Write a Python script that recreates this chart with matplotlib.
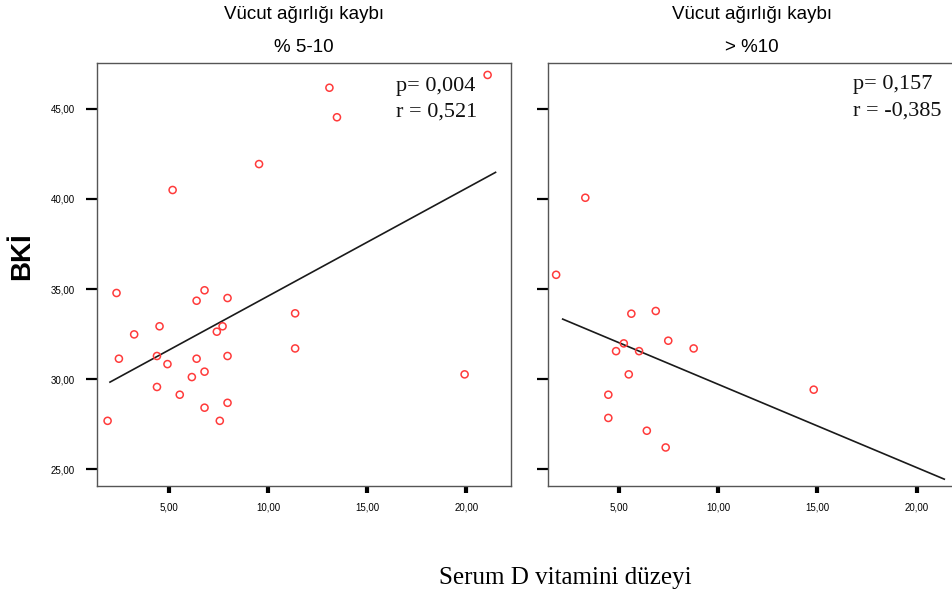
import matplotlib
matplotlib.use("Agg")
import matplotlib.pyplot as plt
import matplotlib as mpl

# Vücut ağırlığı kaybı % 5-10
vit_d_5_10 = [21.08, 13.10, 13.48, 9.55, 5.19, 2.36, 6.80, 6.40, 7.96, 11.37,
              4.53, 3.25, 7.71, 7.42, 11.37, 2.48, 4.40, 6.40, 7.96, 4.93,
              6.80, 6.16, 19.92, 4.40, 5.55, 7.96, 6.80, 1.91, 7.57]
bki_5_10 = [46.89, 46.18, 44.54, 41.94, 40.50, 34.78, 34.93, 34.35, 34.50, 33.65,
            32.93, 32.48, 32.93, 32.63, 31.70, 31.13, 31.28, 31.13, 31.28, 30.83,
            30.41, 30.11, 30.26, 29.56, 29.13, 28.68, 28.41, 27.68, 27.68]
fit_x_5_10 = [2.03, 21.48]
fit_y_5_10 = [29.83, 41.48]

# Vücut ağırlığı kaybı > %10
vit_d_10 = [3.30, 1.83, 5.62, 6.85, 7.48, 8.76, 5.24, 4.85, 6.01, 5.49,
            14.81, 4.46, 4.46, 6.40, 7.35]
bki_10 = [40.07, 35.79, 33.63, 33.78, 32.13, 31.70, 31.98, 31.55, 31.55, 30.26,
          29.41, 29.13, 27.84, 27.13, 26.20]
fit_x_10 = [2.16, 21.39]
fit_y_10 = [33.33, 24.44]

X_TICKS = [5, 10, 15, 20]
Y_TICKS = [25, 30, 35, 40, 45]

mpl.rcParams.update({
    'font.family': ['Liberation Sans', 'DejaVu Sans'],
    'axes.edgecolor': '#555555', 'axes.linewidth': 1.0,
    'xtick.direction': 'out', 'ytick.direction': 'out',
})

W, H = 953, 599
fig = plt.figure(figsize=(W / 100, H / 100), dpi=100)

ax1 = fig.add_axes([96.7 / W, 1 - 486 / H, (511 - 96.7) / W, (486 - 62.7) / H])
ax2 = fig.add_axes([548 / W, 1 - 486 / H, (955 - 548) / W, (486 - 62.7) / H])

panels = [
    (ax1, vit_d_5_10, bki_5_10, fit_x_5_10, fit_y_5_10, (1.36, 22.26), "% 5-10",
     ["p= 0,004", "r = 0,521"], 0.722, (0.933, 0.872)),
    (ax2, vit_d_10, bki_10, fit_x_10, fit_y_10, (1.42, 21.93), "> %10",
     ["p= 0,157", "r = -0,385"], 0.750, (0.938, 0.876)),
]

for ax, xs, ys, fx, fy, xlim, alt_baslik, stat, sx, sy in panels:
    ax.scatter(xs, ys, s=26, facecolors='none', edgecolors='#ff3b3b', linewidths=1.1, zorder=3)
    ax.plot(fx, fy, color='#1a1a1a', linewidth=1.2, zorder=2)
    ax.set_xlim(*xlim)
    ax.set_ylim(24.06, 47.57)
    ax.set_xticks(X_TICKS)
    ax.set_xticklabels([f"{v:.2f}".replace('.', ',') for v in X_TICKS])
    ax.set_yticks(Y_TICKS)
    ax.tick_params(axis='x', length=5, width=3, pad=7, labelsize=7, color='black')
    ax.tick_params(axis='y', length=8, width=1.6, pad=8, labelsize=7, color='black')
    ax.text(0.5, 1.115, "Vücut ağırlığı kaybı", transform=ax.transAxes,
            ha='center', va='center', fontsize=13.5)
    ax.text(0.5, 1.036, alt_baslik, transform=ax.transAxes,
            ha='center', va='center', fontsize=13.5)
    for satir, yy in zip(stat, sy):
        ax.text(sx, yy, satir, transform=ax.transAxes, ha='left', va='baseline',
                fontsize=16, family='Liberation Serif', color='#111111')

ax1.set_yticklabels([f"{v:.2f}".replace('.', ',') for v in Y_TICKS])
ax2.set_yticklabels([])

fig.text(22 / W, 1 - 256 / H, "BKİ", rotation=90, ha='center', va='center',
         fontsize=20, fontweight='bold')
fig.text(565 / W, 1 - 578 / H, "Serum D vitamini düzeyi", ha='center', va='center',
         fontsize=18, family='Liberation Serif')

fig.savefig("out.png", dpi=100)
